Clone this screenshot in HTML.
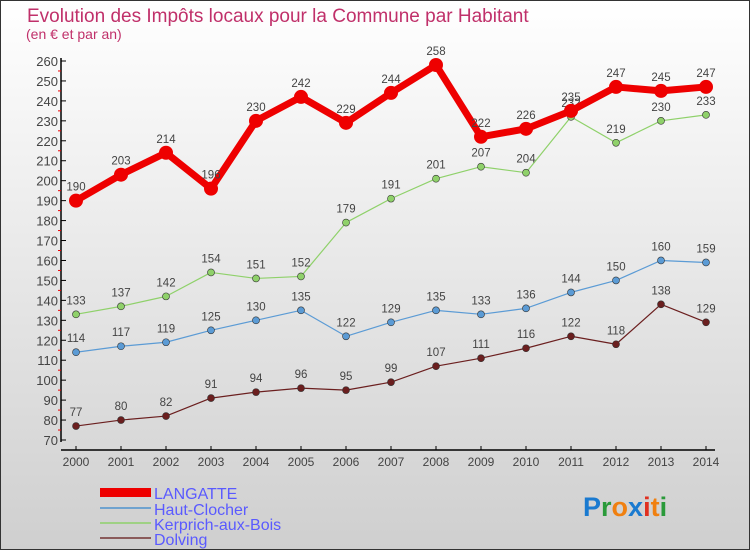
<!DOCTYPE html>
<html><head><meta charset="utf-8"><style>
body{margin:0}
#c{width:750px;height:550px;position:relative;background:linear-gradient(#fff,#cfcfcf);box-sizing:border-box;border:1px solid #333;font-family:"Liberation Sans",sans-serif;overflow:hidden}
</style></head><body>
<div id="c">
<svg id="s" width="750" height="550" style="position:absolute;left:-1px;top:-1px">
<text x="27" y="22" font-size="19" fill="#c0306a">Evolution des Impôts locaux pour la Commune par Habitant</text>
<text x="26" y="39" font-size="14" fill="#c0306a">(en € et par an)</text>
<g id="axes"></g><g id="series"></g>
<g>
<rect x="100" y="488" width="51" height="9" fill="#e00"/>
<text x="154" y="499" font-size="16" fill="#5a5aff">LANGATTE</text>
<rect x="100" y="507" width="51" height="2" fill="#6fa3cf"/>
<text x="154" y="515" font-size="16" fill="#5a5aff">Haut-Clocher</text>
<rect x="100" y="522" width="51" height="2" fill="#9fd184"/>
<text x="154" y="530" font-size="16" fill="#5a5aff">Kerprich-aux-Bois</text>
<rect x="100" y="537" width="51" height="2" fill="#8a5a5a"/>
<text x="154" y="545" font-size="16" fill="#5a5aff">Dolving</text>
</g>
<text x="583" y="516" font-size="27" font-weight="bold"><tspan fill="#1a7ad0">P</tspan><tspan fill="#2a9a3a">r</tspan><tspan fill="#f08010">o</tspan><tspan fill="#1a7ad0">x</tspan><tspan fill="#e03020">i</tspan><tspan fill="#f08010">t</tspan><tspan fill="#2a9a3a">i</tspan></text>
</svg>
</div>
<script>
const years=[2000,2001,2002,2003,2004,2005,2006,2007,2008,2009,2010,2011,2012,2013,2014];
const langatte=[190,203,214,196,230,242,229,244,258,222,226,235,247,245,247];
const hautClocher=[114,117,119,125,130,135,122,129,135,133,136,144,150,160,159];
const kerprich=[133,137,142,154,151,152,179,191,201,207,204,232,219,230,233];
const dolving=[77,80,82,91,94,96,95,99,107,111,116,122,118,138,129];
const yTicks=[70,80,90,100,110,120,130,140,150,160,170,180,190,200,210,220,230,240,250,260];
const NS="http://www.w3.org/2000/svg";
const X=i=>76+i*45;
const Y=v=>440-(v-70)*(379/190);
function mk(t,a,p){const e=document.createElementNS(NS,t);for(const k in a)e.setAttribute(k,a[k]);p.appendChild(e);return e;}
const ax=document.getElementById('axes'),sr=document.getElementById('series');
let l=mk('line',{x1:61,y1:58,x2:61,y2:442,stroke:'#000','stroke-width':1.5},ax);


l=mk('line',{x1:61,y1:450,x2:715,y2:450,stroke:'#000','stroke-width':1.5},ax);


yTicks.forEach((v,i)=>{
 mk('line',{x1:61,y1:Y(v),x2:66,y2:Y(v),stroke:'#000'},ax);
 if(i<yTicks.length-1)mk('line',{x1:58,y1:Y(v+5),x2:61,y2:Y(v+5),stroke:'#e00'},ax);
 const t=mk('text',{x:58,y:Y(v)+5,'text-anchor':'end','font-size':13,fill:'#444'},ax);t.textContent=v;
 
 
});
years.forEach((y,i)=>{
 mk('line',{x1:X(i),y1:446,x2:X(i),y2:450,stroke:'#000'},ax);
 const t=mk('text',{x:X(i),y:466,'text-anchor':'middle','font-size':12,fill:'#444'},ax);t.textContent=y;
 
 
});
function series(data,color,w,r,name){
 const g=mk('g',{},sr);
 
 
 mk('polyline',{points:data.map((v,i)=>X(i)+','+Y(v)).join(' '),fill:'none',stroke:color,'stroke-width':w,'stroke-linejoin':'round'},g);
 data.forEach((v,i)=>{
  const c=mk('circle',{cx:X(i),cy:Y(v),r:r,fill:color,stroke:'#333','stroke-width':r>5?0:0.6},g);
  
  
  const t=mk('text',{x:X(i),y:Y(v)-10,'text-anchor':'middle','font-size':11.5,fill:'#444'},g);t.textContent=v;
  
  
 });
}
series(dolving,'#6b1f1f',1.2,3.5,'dolving-series');
series(hautClocher,'#5b9bd5',1.2,3.5,'haut-clocher-series');
series(kerprich,'#8fd16a',1.2,3.5,'kerprich-series');
series(langatte,'#ee0000',7,7,'langatte-series');
</script>
</body></html>
